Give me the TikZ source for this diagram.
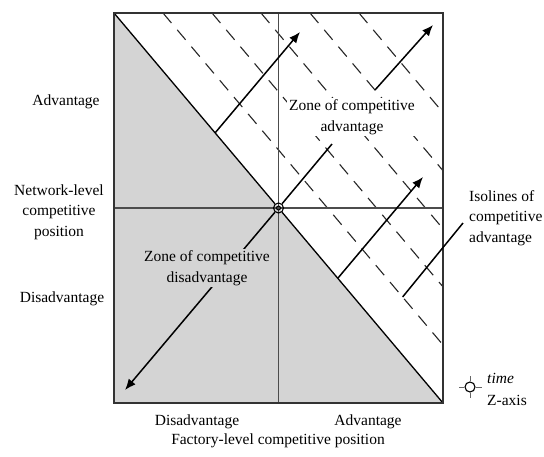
\documentclass[tikz,border=0pt]{standalone}
\usepackage{fontspec}
\setmainfont{Liberation Serif}
\usetikzlibrary{arrows.meta}
\begin{document}
\begin{tikzpicture}[x=1pt,y=-1pt,
  lbl/.style={font=\fontsize{15.5}{20.5}\selectfont, inner sep=2pt, align=center},
  zone/.style={fill=black!17},
  iso/.style={line width=1.1pt, black!85, dash pattern=on 13pt off 9pt},
  axisline/.style={line width=1.6pt, black!70},
  diag/.style={line width=1.3pt, black},
  frame/.style={line width=1.3pt, black!80},
  arr/.style={line width=1.5pt, -{Latex[length=11pt,width=9pt]}},
  lead/.style={line width=1.5pt},
  originmark/.style={circle, draw, line width=1.1pt, minimum size=10pt, inner sep=0pt},
  legmark/.style={circle, draw, line width=1.1pt, minimum size=10pt, inner sep=0pt},
]
\useasboundingbox (0,0) rectangle (544,456);

\coordinate (TL) at (114,13);
\coordinate (TR) at (443,13);
\coordinate (BR) at (443,403);
\coordinate (BL) at (114,403);
\coordinate (TM) at (278.5,13);
\coordinate (BM) at (278.5,403);
\coordinate (LM) at (114,208);
\coordinate (RM) at (443,208);

% shaded zone of disadvantage
\fill[zone] (TL) -- (BR) -- (BL) -- cycle;

% isolines
\foreach \k in {1,...,5}
  \draw[iso] ({114+49*\k},13) -- (443,{13+(329-49*\k)*1.18541});

% axes
\draw[axisline] (TM) -- (BM);
\draw[axisline] (LM) -- (RM);

% origin
\node[originmark] (O) at (278.5,208) {};
\draw[line width=1pt] (O.center) circle[radius=2];

\draw[diag] (TL) -- (O) -- (BR);
\draw[frame] (TL) rectangle (BR);

% arrows
\coordinate (a1s) at (215,133);
\coordinate (a1e) at (300,32);
\coordinate (a2s) at (375,90);
\coordinate (a2e) at (433,25);
\coordinate (a3s) at (338,278);
\coordinate (a3e) at (423,177);
\coordinate (ls) at (402.6,297);
\coordinate (le) at (463,223);
\coordinate (cA) at (125,390);
\coordinate (cB) at (332,144);

\draw[arr] (a1s) -- (a1e);
\draw[arr] (a2s) -- (a2e);
\draw[arr] (a3s) -- (a3e);
\draw[lead] (ls) -- (le);
\draw[lead] (O) -- (cB);
\draw[arr] (O) -- (cA);

% zone labels
\node[lbl, fill=white] (zadv) at (352,117) {Zone of competitive\\advantage};
\node[lbl, zone] (zdis) at (207,268) {Zone of competitive\\disadvantage};

% axis labels
\node[lbl] (ladv) at (66,102) {Advantage};
\node[lbl] (lnet) at (59,212) {Network-level\\competitive\\position};
\node[lbl] (ldis) at (62,299) {Disadvantage};
\node[lbl] (bdis) at (197,422) {Disadvantage};
\node[lbl] (badv) at (368,422) {Advantage};
\node[lbl] (bfac) at (278,441) {Factory-level competitive position};

% isolines label
\node[lbl, anchor=west, align=left] (isol) at (467,218) {Isolines of\\competitive\\advantage};

% legend
\node[legmark] (L) at (470,387) {};
\draw[line width=0.6pt, black!60] (459,387) -- (L.west);
\draw[line width=0.6pt, black!60] (L.east) -- (482,387);
\draw[line width=0.6pt, black!60] (470,376) -- (L.north);
\draw[line width=0.6pt, black!60] (L.south) -- (470,398);
\node[lbl, anchor=west, font=\fontsize{15.5}{20.5}\selectfont\itshape] (ltime) at (485,378) {time};
\node[lbl, anchor=west] (lz) at (485,400) {Z-axis};
\end{tikzpicture}
\end{document}
